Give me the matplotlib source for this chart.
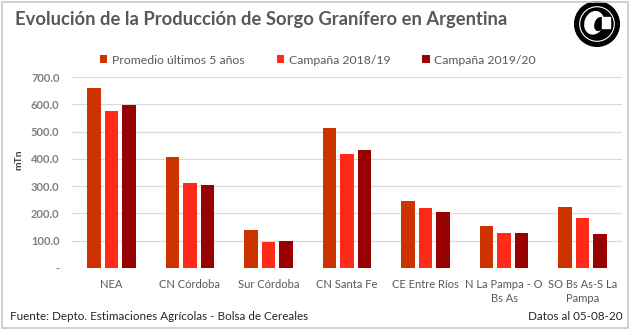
import matplotlib
matplotlib.use("Agg")
import matplotlib.pyplot as plt
import numpy as np
from matplotlib.patches import Rectangle, Circle, Ellipse

categories = ["NEA", "CN Córdoba", "Sur Córdoba", "CN Santa Fe", "CE Entre Ríos",
              "N La Pampa - O\nBs As", "SO Bs As-S La\nPampa"]
promedio_5 = [661, 406, 140, 514, 246, 153, 223]
campana_1819 = [574, 312, 97, 419, 219, 127, 183]
campana_1920 = [597, 305, 99, 431, 204, 130, 123]
series_names = ["Promedio últimos 5 años", "Campaña 2018/19", "Campaña 2019/20"]
yticks = [0, 100, 200, 300, 400, 500, 600, 700]
ytick_labels = ["-", "100.0", "200.0", "300.0", "400.0", "500.0", "600.0", "700.0"]

colors = ["#CC3300", "#FF2A1A", "#990000"]
gray = "#595959"
plt.rcParams['font.family'] = ['Lato', 'DejaVu Sans']

W, H = 637, 332
fig = plt.figure(figsize=(W/100, H/100), dpi=100)
fig.patch.set_facecolor("white")

# border
fig.add_artist(Rectangle((2/W, 4/H), 626/W, 326/H, transform=fig.transFigure,
                         fill=False, edgecolor="#C8C8C8", lw=1.2))

ax = fig.add_axes([72/W, 64/H, 550/W, (268-77)/H])
x = np.arange(len(categories))
bw = 0.172
off = 0.223
for i, (vals, c, n) in enumerate(zip([promedio_5, campana_1819, campana_1920], colors, series_names)):
    ax.bar(x + (i-1)*off, vals, width=bw, color=c, label=n, zorder=3)

ax.set_ylim(0, 700)
ax.set_xlim(-0.5, len(categories)-0.5)
ax.set_yticks(yticks)
ax.set_yticklabels(ytick_labels)
ax.set_xticks(x)
ax.set_xticklabels(categories, linespacing=1.3)
ax.grid(axis="y", color="#D9D9D9", lw=0.9, zorder=0)
for s in ax.spines.values():
    s.set_visible(False)
ax.tick_params(axis="both", length=0, colors=gray, labelsize=8)
ax.tick_params(axis="y", pad=9)
ax.tick_params(axis="x", pad=8)
for lbl in ax.get_yticklabels():
    lbl.set_fontweight("bold")
    lbl.set_color("#7F7F7F")
ax.set_ylabel("mTn", fontsize=7.5, fontweight="bold", color="#404040")
ax.yaxis.set_label_coords(-0.088, 0.565)

leg = fig.legend(loc="center", bbox_to_anchor=(318/W, 1-60/H), ncol=3, frameon=False,
                 fontsize=8.8, handlelength=0.6, handleheight=0.6, handletextpad=0.4,
                 columnspacing=2.6, labelcolor=gray)

fig.text(15/W, 1-20/H, "Evolución de la Producción de Sorgo Granífero en Argentina",
         fontsize=13.2, fontweight="bold", color=gray, va="center", ha="left")
fig.text(10/W, 1-316/H, "Fuente: Depto. Estimaciones Agrícolas - Bolsa de Cereales",
         fontsize=8.4, color="#262626", va="center", ha="left")
fig.text(622/W, 1-316/H, "Datos al 05-08-20", fontsize=8.4, color="#262626",
         va="center", ha="right")

# logo
lx, ly = 597, 24
ax_logo = fig.add_axes([(lx-24)/W, 1-(ly+24)/H, 48/W, 48/H])
ax_logo.set_xlim(-1, 1); ax_logo.set_ylim(-1, 1); ax_logo.axis("off")
ax_logo.add_patch(Circle((0, 0), 0.93, color="black"))
ax_logo.add_patch(Circle((0, 0), 0.72, fill=False, edgecolor="white", lw=0.8))
ax_logo.add_patch(Ellipse((-0.12, 0.05), 0.75, 0.95, angle=-20, color="white"))
ax_logo.add_patch(Ellipse((0.1, 0.0), 0.35, 0.55, angle=-20, color="black"))
ax_logo.add_patch(Rectangle((0.2, -0.15), 0.35, 0.45, color="white"))

fig.savefig("out.png", dpi=100)
